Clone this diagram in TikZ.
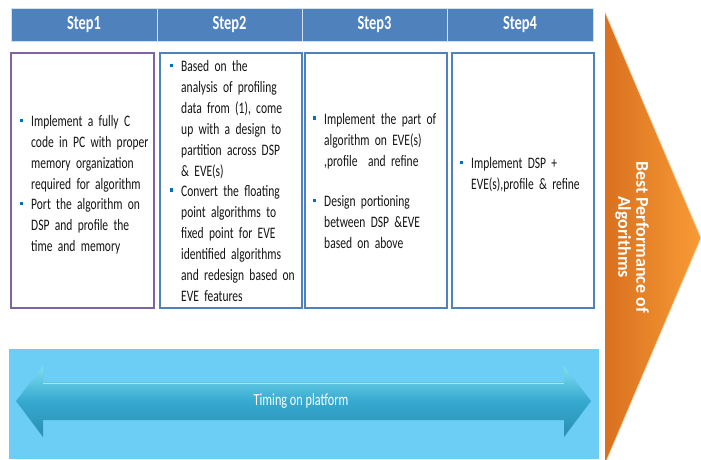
\documentclass[tikz,border=0pt]{standalone}
\usepackage{fontspec}
\setmainfont{Carlito}[FakeStretch=0.72]
\newfontfamily\wide{Carlito}
\definecolor{hdrblue}{HTML}{4F81BD}
\definecolor{boxpurple}{HTML}{8064A2}
\definecolor{bulblue}{HTML}{0070C0}
\definecolor{skyblue}{HTML}{6CCEF5}
\definecolor{arrtop}{HTML}{7FDDF2}
\definecolor{arrmid}{HTML}{35A9CF}
\definecolor{arrbot}{HTML}{2A8FB0}
\definecolor{orleft}{HTML}{D9711F}
\definecolor{orright}{HTML}{F89B35}
\newcommand\bsq{\textcolor{bulblue}{\rule{3.2pt}{3.2pt}}}
\newcommand\bitem[1]{\par\noindent\makebox[11pt][l]{\raisebox{4.5pt}{\bsq}}\parbox[t]{124pt}{\raggedright #1}\par\prevdepth=4pt\relax}
\tikzset{
  hdr/.style={fill=hdrblue, draw=white!75!hdrblue, line width=0.8pt, minimum height=33pt, text=white, font=\fontsize{20}{22}\selectfont\bfseries, inner sep=0pt},
  stepbox/.style={draw=hdrblue, line width=2pt, fill=white},
  body/.style={align=left, inner sep=0pt, font=\fontsize{16}{21}\selectfont, text=black!92},
}
\begin{document}
\begin{tikzpicture}[x=1pt,y=-1pt]
\useasboundingbox (0,0) rectangle (701,459);
% header
\node[hdr, minimum width=146pt] (h1) at (84,24.5) {Step1};
\node[hdr, minimum width=145pt] (h2) at (229.5,24.5) {Step2};
\node[hdr, minimum width=145pt] (h3) at (374.5,24.5) {Step3};
\node[hdr, minimum width=146pt] (h4) at (520,24.5) {Step4};
% boxes
\draw[stepbox, draw=boxpurple] (11,53) rectangle (154,308);
\draw[stepbox] (159.5,53) rectangle (301.5,308);
\draw[stepbox] (304.5,53) rectangle (446.5,308);
\draw[stepbox] (452,53) rectangle (594,308);
\node[body, text width=135pt, anchor=west] (t1) at (20,180) {%
\bitem{Implement a fully C\newline code in PC with proper\newline memory organization\newline required for algorithm}
\bitem{Port the algorithm on\newline DSP and profile the\newline time and memory}};
\node[body, text width=135pt, anchor=west] (t2) at (170,176) {%
\bitem{Based on the\newline analysis of profiling\newline data from (1), come\newline up with a design to\newline partition across DSP\newline \& EVE(s)}
\bitem{Convert the floating\newline point algorithms to\newline fixed point for EVE\newline identified algorithms\newline and redesign based on\newline EVE features}};
\node[body, text width=135pt, anchor=west] (t3) at (313,176) {%
\bitem{Implement the part of\newline algorithm on EVE(s)\newline ,profile\ \ and refine}
\vspace{21pt}
\bitem{Design portioning\newline between DSP \&EVE\newline based on above}};
\node[body, text width=135pt, anchor=west] (t4) at (460,170) {%
\bitem{Implement DSP +\newline EVE(s),profile \& refine}};
% orange triangle
\shade[left color=orleft, right color=orright] (605,12) -- (701,238) -- (605,464) -- cycle;
\draw[white!60!orright, line width=0.8pt] (605,12) -- (701,238) -- (605,464);
\node[text=white, rotate=-90, align=center, font=\wide\fontsize{18}{18}\selectfont\bfseries] (perf) at (632,237) {Best Performance of\\Algorithms};
% timing band
\fill[skyblue] (9,349) rectangle (599,459);
\shade[top color=arrtop, bottom color=arrbot, middle color=arrmid]
  (16,401) -- (43,366) -- (43,382) -- (564,382) -- (564,366) -- (591,401) -- (564,437) -- (564,420) -- (43,420) -- (43,437) -- cycle;
\draw[arrtop!70!white, line width=1pt] (43,383.5) -- (564,383.5);
\node[text=white, font=\fontsize{17}{19}\selectfont] (timing) at (301,401) {Timing on platform};
\end{tikzpicture}
\end{document}
